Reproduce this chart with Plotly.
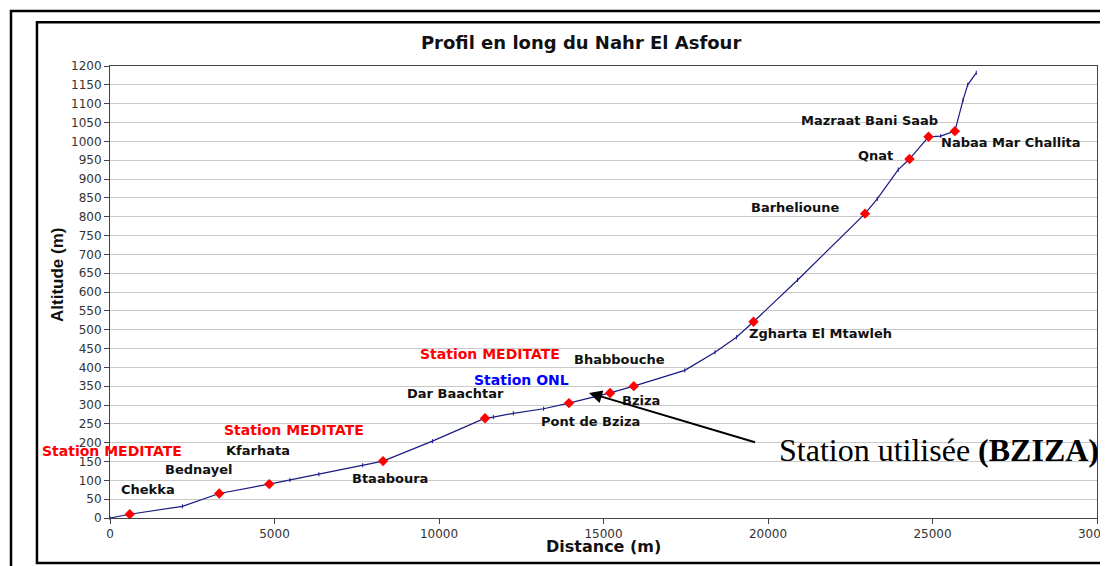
import plotly.graph_objects as go

# Profile points (distance m, altitude m)
dist = [0, 600, 2200, 3320, 4840, 5470, 6350, 7680, 8300, 9800, 11400, 11650, 12260, 13180,
        13950, 15200, 15920, 17470, 18390, 19040, 19560, 20900, 22950, 23320, 23960, 24300,
        24880, 25250, 25680, 25930, 26070, 26330]
alt = [0, 10, 31, 65, 90, 101, 116, 140, 151, 204, 265, 268, 278, 290,
       305, 332, 350, 392, 440, 480, 521, 632, 808, 847, 925, 953,
       1012, 1014, 1027, 1110, 1150, 1182]

# Named localities (red diamonds)
loc_names = ["Chekka", "Bednayel", "Kfarhata", "Btaaboura", "Dar Baachtar", "Pont de Bziza",
             "Bziza", "Bhabbouche", "Zgharta El Mtawleh", "Barhelioune", "Qnat",
             "Mazraat Bani Saab", "Nabaa Mar Challita"]
loc_dist = [600, 3320, 4840, 8300, 11400, 13950, 15200, 15920, 19560, 22950, 24300, 24880, 25680]
loc_alt = [10, 65, 90, 151, 265, 305, 332, 350, 521, 808, 953, 1012, 1027]
# label anchor positions (data coords)
lab_x = [1150, 2700, 4500, 8500, 10500, 14600, 16150, 15500, 21600, 20850, 23280, 23100, 27400]
lab_y = [75, 128, 178, 105, 330, 255, 312, 420, 490, 825, 962, 1055, 998]

stations = ["Station MEDITATE", "Station MEDITATE", "Station MEDITATE", "Station ONL"]
st_x = [70, 5600, 11545, 12500]
st_y = [178, 233, 435, 367]
st_col = ["#ff0000", "#ff0000", "#ff0000", "#0000ff"]

xticks = [0, 5000, 10000, 15000, 20000, 25000, 30000]
yticks = list(range(0, 1201, 50))

SANS_B = "DejaVu Sans, Arial"

fig = go.Figure()
fig.add_trace(go.Scatter(x=dist, y=alt, mode="lines+markers",
                         line=dict(color="#1a1a80", width=1.2),
                         marker=dict(color="#1a1a9a", size=3, symbol="line-ns", line=dict(width=1, color="#1a1a9a")),
                         showlegend=False, hoverinfo="skip", cliponaxis=False))
fig.add_trace(go.Scatter(x=loc_dist, y=loc_alt, mode="markers",
                         marker=dict(color="#ff0000", size=8, symbol="diamond"),
                         showlegend=False, cliponaxis=False))

for n, x, y in zip(loc_names, lab_x, lab_y):
    fig.add_annotation(x=x, y=y, text="<b>" + n + "</b>", showarrow=False,
                       font=dict(family=SANS_B, size=13, color="#111111"))
for n, x, y, c in zip(stations, st_x, st_y, st_col):
    fig.add_annotation(x=x, y=y, text="<b>" + n + "</b>", showarrow=False,
                       font=dict(family=SANS_B, size=14, color=c))

# Arrow and label for the used station
fig.add_annotation(x=14560, y=332, ax=19650, ay=200, xref="x", yref="y", axref="x", ayref="y",
                   text="", showarrow=True, arrowhead=2, arrowsize=1.3, arrowwidth=2, arrowcolor="black")
fig.add_annotation(x=1.004, y=180, xref="paper", yref="y", xanchor="right", yanchor="middle",
                   text="Station utilisée <b>(BZIZA)</b>", showarrow=False,
                   font=dict(family="Liberation Serif, Times New Roman", size=32, color="black"))

# Axis titles
fig.add_annotation(x=-0.0537, y=0.5376, xref="paper", yref="paper", textangle=-90,
                   xanchor="center", yanchor="middle",
                   text="<b>Altitude (m)</b>", showarrow=False,
                   font=dict(family="Arial, Liberation Sans", size=17, color="#111111"))
fig.add_annotation(x=0.5005, y=-0.064, xref="paper", yref="paper",
                   xanchor="center", yanchor="middle",
                   text="<b>Distance (m)</b>", showarrow=False,
                   font=dict(family=SANS_B, size=16, color="#111111"))

# Frames
fig.add_shape(type="rect", xref="paper", yref="paper", x0=-0.1003, x1=1.03, y0=-0.2, y1=1.1217,
              line=dict(color="black", width=2.5), layer="below")
fig.add_shape(type="rect", xref="paper", yref="paper", x0=-0.074, x1=1.03, y0=-0.0996, y1=1.097,
              line=dict(color="black", width=2.5), layer="below")

fig.update_layout(
    width=1100, height=558,
    paper_bgcolor="white", plot_bgcolor="white",
    margin=dict(l=102, r=11, t=58, b=48, autoexpand=False),
    title=dict(text="<b>Profil en long du Nahr El Asfour</b>", x=0.521, xanchor="center", y=0.937,
               yanchor="middle",
               font=dict(family=SANS_B, size=18, color="#111111")),
    font=dict(family="DejaVu Sans, Arial"),
)
fig.update_xaxes(range=[0, 30000], tickvals=xticks, ticktext=[str(v) for v in xticks],
                 showgrid=False, zeroline=False, showline=True, linecolor="#444444", linewidth=1,
                 mirror=True, ticks="outside", ticklen=5, tickcolor="#444444",
                 ticklabeloverflow="allow", automargin=False,
                 tickfont=dict(family="DejaVu Sans", size=12, color="#333333"))
fig.update_yaxes(range=[0, 1200], tickvals=yticks, ticktext=[str(v) for v in yticks],
                 showgrid=True, gridcolor="#c8c8c8", gridwidth=1, zeroline=False,
                 showline=True, linecolor="#444444", linewidth=1, mirror=True,
                 ticks="outside", ticklen=5, tickcolor="#444444", automargin=False,
                 tickfont=dict(family="DejaVu Sans", size=12, color="#333333"))

fig.write_html("out.html")
